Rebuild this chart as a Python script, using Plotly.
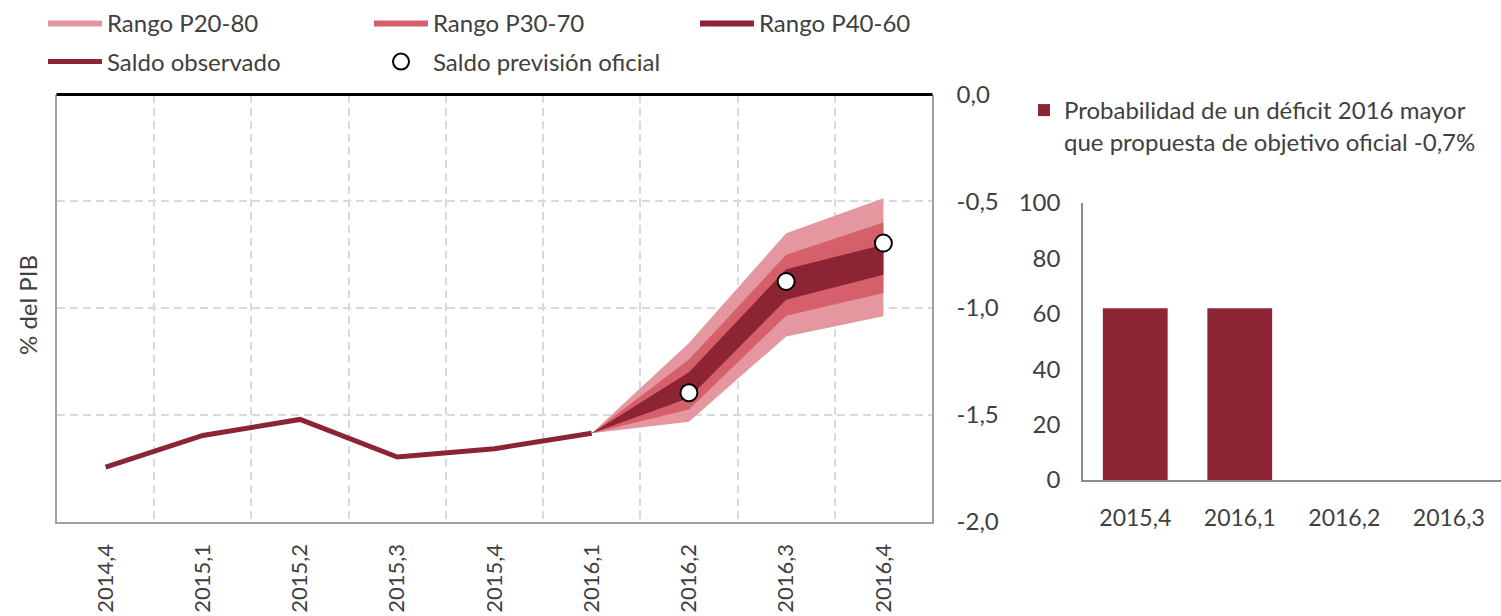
import plotly.graph_objects as go

# ---------------- data ----------------
quarters = ["2014,4", "2015,1", "2015,2", "2015,3", "2015,4",
            "2016,1", "2016,2", "2016,3", "2016,4"]
observed_quarters = ["2014,4", "2015,1", "2015,2", "2015,3", "2015,4", "2016,1"]
observed = [-1.745, -1.597, -1.522, -1.698, -1.659, -1.587]

fan_quarters = ["2016,1", "2016,2", "2016,3", "2016,4"]
p20 = [-1.587, -1.533, -1.133, -1.039]
p80 = [-1.587, -1.164, -0.650, -0.486]
p30 = [-1.587, -1.475, -1.036, -0.930]
p70 = [-1.587, -1.241, -0.751, -0.600]
p40 = [-1.587, -1.421, -0.961, -0.844]
p60 = [-1.587, -1.301, -0.818, -0.704]

official_quarters = ["2016,2", "2016,3", "2016,4"]
official = [-1.397, -0.876, -0.696]

prob_quarters = ["2015,4", "2016,1", "2016,2", "2016,3"]
prob_values = [62, 62, 0, 0]

y_ticks = [0, -0.5, -1.0, -1.5, -2.0]
y_labels = ["0,0", "-0,5", "-1,0", "-1,5", "-2,0"]
prob_ticks = [0, 20, 40, 60, 80, 100]

# ---------------- style ----------------
FONT = "Lato"
TXT = "#404040"
C_LIGHT = "#E4979F"
C_MID = "#D5606C"
C_DARK = "#8C2434"
GRID = "#D9D9D9"
FRAME = "#A0A0A0"
W, H = 1501, 616
X_DOM = [57 / W, 932 / W]
Y_DOM = [1 - 521.5 / H, 1 - 94.5 / H]

fig = go.Figure()

bands = [("Rango P20-80", p20, p80, C_LIGHT),
         ("Rango P30-70", p30, p70, C_MID),
         ("Rango P40-60", p40, p60, C_DARK)]
for name, lo, hi, col in bands:
    fig.add_trace(go.Scatter(
        x=fan_quarters + fan_quarters[::-1],
        y=hi + lo[::-1],
        fill="toself", fillcolor=col, mode="lines",
        line=dict(width=0, color=col),
        name=name, legend="legend", xaxis="x", yaxis="y",
        hoveron="fills"))

fig.add_trace(go.Scatter(
    x=observed_quarters, y=observed, mode="lines",
    line=dict(color=C_DARK, width=5),
    name="Saldo observado", legend="legend3", xaxis="x", yaxis="y"))

fig.add_trace(go.Scatter(
    x=official_quarters, y=official, mode="markers",
    marker=dict(size=17, color="white", line=dict(color="black", width=2)),
    name="Saldo previsión oficial", legend="legend3", xaxis="x", yaxis="y"))

fig.add_trace(go.Bar(
    x=prob_quarters, y=prob_values, marker_color=C_DARK, width=0.62,
    name="Probabilidad de un déficit 2016 mayor<br>que propuesta de objetivo oficial -0,7%",
    legend="legend2", xaxis="x2", yaxis="y2"))

legend_common = dict(orientation="h", bgcolor="rgba(0,0,0,0)",
                     font=dict(family=FONT, size=24, color=TXT),
                     xanchor="left", yanchor="middle")

fig.update_layout(
    template="none",
    width=W, height=H,
    margin=dict(l=0, r=0, t=0, b=0, autoexpand=False),
    paper_bgcolor="white", plot_bgcolor="white",
    font=dict(family=FONT, size=24, color=TXT),
    legend=dict(**legend_common, x=43 / W, y=1 - 23 / H,
                entrywidth=257, entrywidthmode="pixels", itemwidth=54),
    legend3=dict(**legend_common, x=43 / W, y=1 - 62 / H,
                 entrywidth=257, entrywidthmode="pixels", itemwidth=54),
    legend2=dict(**legend_common, x=1024 / W, y=1 - 126 / H,
                 itemwidth=30, valign="top"),
    xaxis=dict(domain=X_DOM, anchor="y", type="category",
               categoryorder="array", categoryarray=quarters,
               range=[-0.5, 8.5], tickson="boundaries", automargin=False,
               showgrid=True, gridcolor=GRID, gridwidth=1.5, griddash="8px,5px",
               showline=True, mirror=False, linecolor=FRAME, linewidth=1.5,
               ticks="", tickangle=-90, ticklabelstandoff=12,
               tickfont=dict(family=FONT, size=22, color=TXT)),
    yaxis=dict(domain=Y_DOM, anchor="x", side="right",
               range=[-2, 0], tickvals=y_ticks, ticktext=y_labels,
               automargin=False,
               showgrid=True, gridcolor=GRID, gridwidth=1.5, griddash="8px,5px",
               zeroline=False, showline=True, mirror=True,
               linecolor=FRAME, linewidth=1.5, ticks="", ticklabelstandoff=18,
               tickfont=dict(family=FONT, size=24, color=TXT)),
    xaxis2=dict(domain=[1083 / W, 1.0], anchor="y2", type="category",
                categoryorder="array", categoryarray=prob_quarters,
                range=[-0.5, 3.5], showgrid=False, showline=True,
                automargin=False, zeroline=False,
                linecolor="#8C8C8C", linewidth=1.5, ticks="",
                ticklabelstandoff=17,
                tickfont=dict(family=FONT, size=23, color=TXT)),
    yaxis2=dict(domain=[1 - 480 / H, 1 - 203 / H], anchor="x2",
                range=[0, 100], tickvals=prob_ticks, showgrid=False,
                automargin=False,
                zeroline=False, showline=True, linecolor="#8C8C8C",
                linewidth=1.5, ticks="", ticklabelstandoff=16,
                tickfont=dict(family=FONT, size=24, color=TXT)),
    shapes=[dict(type="line", xref="paper", yref="paper",
                 x0=X_DOM[0] - 0.5 / W, x1=X_DOM[1] + 0.5 / W,
                 y0=Y_DOM[1], y1=Y_DOM[1], layer="above",
                 line=dict(color="black", width=3))],
    annotations=[dict(text="% del PIB", xref="paper", yref="paper",
                      x=27 / W, y=1 - 305 / H, xanchor="center", yanchor="middle",
                      showarrow=False, textangle=-90,
                      font=dict(family=FONT, size=24, color=TXT))],
)

fig.write_html("out.html",
               config={"displayModeBar": False},
               post_script="document.body.style.margin='0';document.body.style.overflow='hidden';")
